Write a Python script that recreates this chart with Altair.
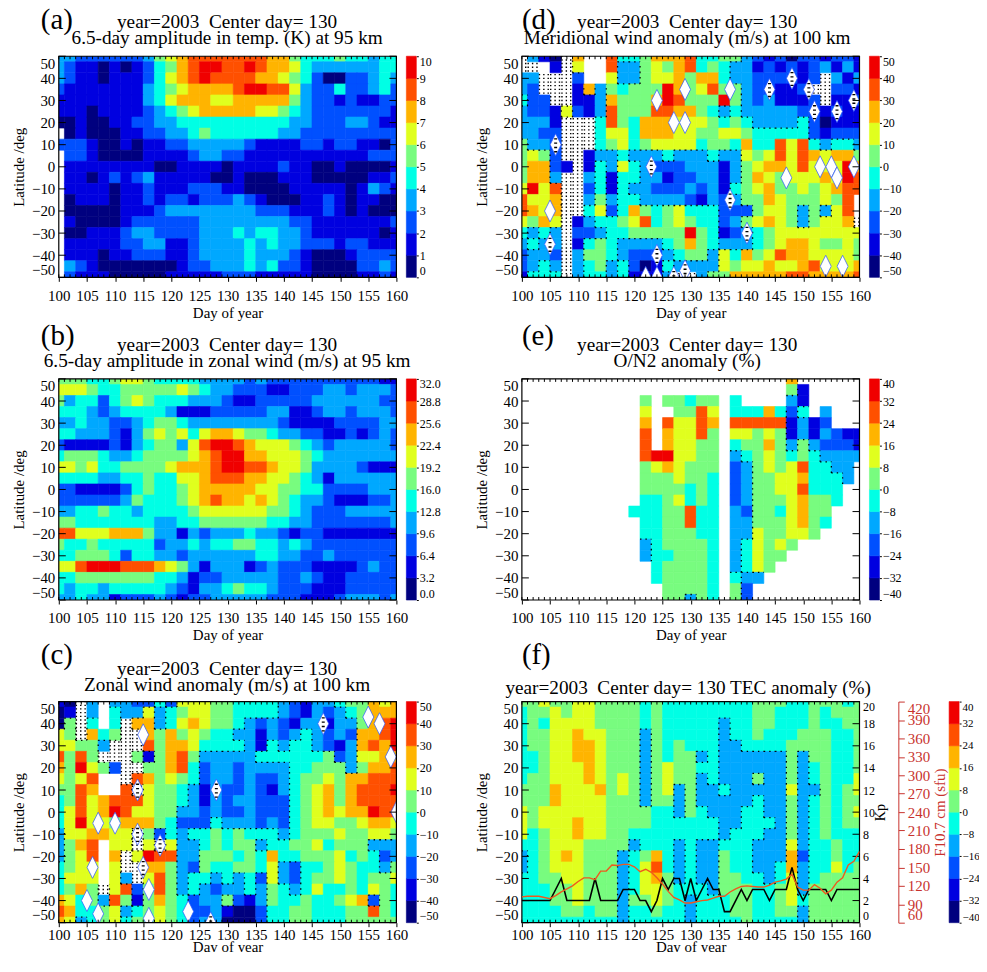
import altair as alt
import pandas as pd

FONT = "Liberation Serif"
PALETTE = ['#00007f', '#0000e0', '#0050ff', '#00a8ff', '#00ffe5',
           '#78fc7f', '#e0ff1e', '#ffb400', '#ff5000', '#f00000']
LATS = list(range(50, -55, -5))
GRID_DAYS = list(range(100, 162, 2))
MINOR_DAYS = list(range(100, 161))
MAJOR_DAYS = list(range(100, 165, 5))
LAT_TICKS = list(range(-50, 60, 10))

# Contour level index per cell: rows lat 50..-50, columns day 100..160 step 2.
# w = no data, x = no data with dense stippling
a_rows = [
"3 3 2 2 2 2 2 2 3 5 6 7 8 8 8 8 8 8 8 7 7 5 4 4 4 5 4 4 3 4 4",
"3 2 1 1 0 1 0 1 2 4 5 7 8 9 9 8 8 9 8 7 7 6 4 3 3 3 3 3 3 4 4",
"3 2 1 1 0 1 1 1 2 4 6 7 8 9 8 8 8 8 7 7 6 5 4 2 0 0 2 2 3 4 3",
"2 1 1 1 1 1 1 1 3 4 5 6 7 7 7 7 8 9 9 8 8 6 3 2 2 4 2 2 3 4 2",
"1 1 1 1 1 1 1 1 3 4 6 7 7 7 6 6 7 7 7 7 7 5 3 2 2 1 2 1 1 2 2",
"1 1 1 0 1 1 1 1 2 3 4 5 6 7 7 7 7 7 6 6 5 4 3 2 2 2 2 2 2 2 1",
"0 0 1 0 0 1 1 2 2 3 3 4 4 4 4 4 4 4 4 4 4 3 3 2 2 2 3 3 2 1 1",
"w 0 1 0 0 0 1 1 2 2 3 3 4 5 4 4 4 4 4 4 3 3 2 2 2 2 2 2 2 2 2",
"2 2 2 1 0 0 1 0 1 1 2 2 3 3 3 3 3 2 1 1 1 1 2 2 1 2 2 1 1 0 2",
"w 2 2 1 0 0 0 0 1 1 1 1 2 3 3 2 2 1 1 1 1 1 1 1 1 1 1 1 2 2 2",
"w 1 1 1 1 1 1 1 1 0 0 1 1 1 1 0 1 1 1 1 2 1 1 0 0 1 0 0 0 0 1",
"w 1 1 0 1 2 1 2 3 1 1 1 1 1 0 0 1 0 0 0 1 1 1 0 0 0 0 0 1 1 2",
"w 1 1 1 1 0 1 1 2 1 1 1 2 2 2 1 1 0 0 0 0 1 1 1 1 1 0 1 3 2 1",
"w 0 1 1 1 0 1 1 2 1 2 2 1 2 2 2 3 2 1 0 0 0 1 1 2 1 0 1 1 0 0",
"w 0 0 0 0 0 1 1 1 2 3 3 3 3 3 3 3 3 2 2 2 1 1 1 2 1 0 1 0 0 0",
"w 1 0 0 0 0 1 2 2 2 2 2 2 3 3 3 3 3 3 3 3 2 2 1 1 1 1 1 1 1 2",
"w 0 0 1 1 1 2 3 3 2 2 2 2 3 3 3 4 3 4 4 3 3 2 1 1 1 1 1 1 0 1",
"w 1 1 1 1 1 2 2 3 3 1 1 2 3 3 3 3 4 3 4 3 3 2 2 2 1 2 2 1 1 1",
"w 1 1 1 0 1 1 2 2 2 1 1 2 3 3 3 3 4 3 3 3 2 1 0 0 0 1 2 2 2 2",
"w 3 2 1 0 0 0 0 0 0 0 1 2 2 3 3 3 4 3 4 2 2 1 0 0 0 0 2 2 3 2",
"w 2 1 1 1 0 0 0 0 0 1 1 1 1 1 2 2 2 1 1 1 1 1 0 0 0 0 1 1 2 1",
]
b_rows = [
"5 5 5 4 4 5 6 6 5 4 4 4 4 3 3 3 3 2 3 2 2 2 2 2 2 2 2 2 2 1 1",
"6 6 6 5 4 4 5 5 5 5 5 6 5 4 3 3 2 2 2 1 1 2 2 2 3 3 2 3 3 3 2",
"5 3 4 4 2 4 5 6 5 4 4 4 3 3 3 2 1 1 2 2 2 2 2 3 3 3 3 3 3 2 2",
"4 4 4 3 2 3 4 4 4 4 3 1 1 1 2 2 2 2 2 3 3 1 1 2 3 3 2 3 3 3 2",
"3 3 4 3 3 2 2 3 4 5 5 4 3 3 3 3 3 3 3 3 2 1 1 1 1 2 2 2 2 3 3",
"4 4 3 3 3 2 1 3 5 6 5 6 4 6 7 7 6 5 5 4 3 3 2 2 1 1 2 1 2 3 2",
"2 1 1 1 1 2 1 3 4 5 5 3 6 8 9 9 8 7 6 6 6 5 4 3 2 3 3 3 3 3 2",
"4 5 5 5 4 3 3 4 5 5 5 5 6 7 8 9 9 7 7 6 6 6 5 4 3 3 3 3 3 3 3",
"6 6 5 6 4 4 5 5 5 5 6 7 7 7 8 9 9 8 8 7 6 6 5 3 3 3 3 2 1 1 1",
"4 4 4 4 3 3 4 4 5 4 4 6 6 7 8 8 8 7 7 6 6 5 4 3 1 3 3 3 3 3 3",
"2 2 1 1 1 1 2 4 5 4 4 5 6 7 7 7 7 7 6 6 5 5 4 4 2 2 2 2 3 3 3",
"2 2 2 2 2 2 3 5 4 4 4 5 6 7 8 7 7 6 7 6 5 4 3 3 2 1 1 1 2 2 3",
"3 3 4 4 5 4 4 3 4 4 4 4 5 6 6 6 6 6 6 5 5 4 3 2 2 2 3 3 3 3 3",
"5 5 4 4 4 4 4 4 4 3 3 4 4 5 5 5 5 5 5 4 4 3 3 2 2 2 2 2 2 2 3",
"8 8 6 6 6 7 7 7 5 3 3 1 3 2 3 3 3 4 3 3 2 1 2 2 1 1 1 1 1 1 1",
"5 4 4 5 4 4 4 4 4 2 3 3 4 3 4 4 5 5 4 4 3 4 3 2 2 2 2 2 2 2 2",
"4 4 5 5 5 4 2 4 4 3 3 2 3 3 3 3 3 3 4 4 3 3 2 2 3 2 2 2 2 2 2",
"6 6 8 9 9 9 8 8 8 7 6 5 3 1 3 3 3 1 2 3 2 2 2 1 1 1 1 2 3 2 2",
"4 4 5 5 5 5 5 5 5 4 4 3 1 2 2 3 3 3 3 3 2 2 3 2 1 1 2 2 2 2 2",
"4 3 4 4 3 4 4 4 4 4 3 2 1 3 3 4 5 4 4 3 2 2 2 1 1 1 2 2 2 2 2",
"3 3 4 3 3 1 2 2 2 3 2 1 2 2 3 3 3 3 3 2 2 2 1 1 1 2 3 3 3 2 3",
]
c_rows = [
"1 0 x 3 w 3 3 2 2 4 2 6 6 6 5 5 4 4 4 4 3 2 1 3 3 4 5 5 7 6 7",
"0 1 x 3 w 4 3 3 6 3 4 5 6 6 5 5 4 4 4 4 3 2 1 3 2 3 4 5 7 7 7",
"0 5 x 4 w 4 x 7 7 3 4 6 7 6 5 5 4 3 2 3 2 1 3 3 1 3 3 5 7 8 9",
"6 5 x 7 4 5 x x 7 5 7 5 6 5 4 4 3 3 1 3 2 3 4 3 2 3 2 7 7 8 9",
"6 6 5 5 3 x x x 8 5 7 7 6 4 4 4 4 3 1 4 3 4 4 3 2 1 3 7 8 7 9",
"8 5 8 5 x x x 5 1 5 7 8 5 3 3 3 3 3 4 4 4 4 4 4 5 2 3 6 6 7 7",
"7 5 9 6 5 2 x x 5 5 7 8 4 2 3 3 2 3 3 3 3 4 4 5 5 5 3 5 7 7 8",
"6 5 6 8 w w x 8 7 5 6 5 4 2 3 3 2 3 2 2 3 4 5 5 6 5 7 7 8 8 8",
"5 5 8 7 w w 8 x 6 5 5 4 3 1 3 2 2 3 2 1 3 4 5 6 7 5 7 8 8 8 9",
"4 5 8 6 7 8 8 8 6 5 5 4 3 1 3 2 3 3 2 2 2 4 5 6 7 5 7 8 8 8 8",
"4 6 8 6 7 9 8 6 6 5 5 3 3 2 3 2 2 3 2 2 2 4 5 6 7 6 7 7 9 8 8",
"4 6 9 6 6 5 7 7 7 5 4 2 2 2 4 3 3 3 2 3 2 4 5 6 6 5 5 6 7 7 6",
"3 6 6 7 7 6 6 x 5 2 4 3 4 4 5 4 5 4 4 4 3 4 5 5 5 6 5 5 6 6 5",
"3 5 7 8 w 6 6 x 6 x 6 3 3 4 5 4 5 5 3 4 4 5 5 6 4 5 5 5 3 3 3",
"3 5 6 8 w 7 x 6 9 8 8 3 3 5 5 5 4 5 4 7 4 4 5 5 5 6 4 5 4 2 3",
"4 5 6 6 w 6 x x 7 7 5 3 2 5 4 4 5 5 4 6 3 2 4 4 5 6 5 4 4 3 5",
"4 6 6 6 w 6 3 x 6 8 5 3 4 4 3 4 3 4 2 6 3 2 4 5 5 6 5 4 5 5 6",
"4 5 7 5 x 6 8 2 5 8 5 3 4 3 2 3 3 4 3 5 4 3 4 6 4 4 5 4 6 5 4",
"7 6 4 5 3 8 5 1 5 7 5 4 2 3 3 5 2 1 3 5 4 4 5 4 4 5 6 7 2 5 4",
"8 7 4 4 5 6 3 4 5 6 5 4 2 2 3 1 0 0 2 4 4 5 5 4 4 4 5 5 8 5 4",
"7 6 3 4 5 6 4 5 5 6 5 4 2 3 3 0 0 0 2 4 4 5 5 4 4 4 5 5 5 5 5",
]
d_rows = [
"x 3 1 0 x 7 w w 8 4 4 5 7 7 7 8 4 4 5 5 3 2 1 2 0 2 2 1 2 2 1",
"x x w 1 x 6 w w 8 3 3 5 6 5 7 8 4 5 4 3 3 1 2 1 2 1 2 3 1 3 1",
"3 3 x x x 2 w w 6 3 3 5 6 6 7 5 7 7 4 3 3 2 2 2 2 1 2 x 3 1 3",
"3 2 x x x 1 7 3 5 4 5 5 5 9 7 5 6 8 5 5 3 2 2 1 1 2 x x 2 2 1",
"4 2 2 x x 1 1 3 7 5 5 5 7 9 8 5 5 5 9 5 3 2 3 1 1 1 2 x 1 1 2",
"3 2 2 1 6 2 1 3 8 5 5 5 8 8 7 7 5 4 3 4 3 3 3 3 3 2 2 1 2 1 1",
"3 3 3 1 x x x 4 8 5 4 7 7 7 6 6 6 5 4 5 4 3 3 3 3 4 2 0 1 1 1",
"3 3 2 2 x x x 4 6 6 4 7 7 7 6 6 5 5 6 6 5 4 4 4 4 4 2 1 2 2 2",
"5 3 3 2 x x x 4 5 6 4 5 6 6 6 6 4 5 5 4 7 4 4 8 6 8 4 3 4 4 3",
"5 6 5 2 x x 1 3 3 4 3 3 3 4 3 3 3 4 3 3 6 5 6 8 6 8 7 6 7 7 5",
"5 7 7 2 1 x 1 4 3 6 4 3 2 2 2 3 3 3 1 3 5 6 7 7 6 8 6 6 6 9 7",
"5 7 7 3 x x 3 4 1 4 4 3 3 1 2 2 3 3 1 3 5 7 6 5 6 6 6 7 6 9 8",
"6 9 6 8 x x 2 4 1 4 3 3 2 2 2 3 2 3 1 4 5 6 7 5 5 6 5 6 7 8 8",
"8 6 6 7 x x 3 5 3 4 4 3 3 3 3 2 1 3 2 3 5 5 7 6 5 5 5 6 5 8 w",
"8 7 6 7 x x 4 6 2 4 7 5 4 5 6 4 4 4 2 2 2 5 6 6 5 3 5 3 6 8 w",
"6 5 7 6 x 1 3 4 4 5 6 8 4 5 6 5 4 4 2 3 5 6 7 6 5 3 5 6 6 7 x",
"4 3 4 3 x 2 2 3 4 4 5 5 5 5 5 9 5 4 1 2 3 4 5 6 6 6 6 6 6 6 6",
"3 4 3 3 x 1 4 5 4 3 3 3 3 4 5 7 5 4 3 3 3 4 5 6 7 7 6 5 5 6 5",
"2 3 3 2 x 3 5 5 4 3 2 2 2 3 4 5 5 3 6 4 7 5 6 8 7 7 6 6 6 6 5",
"2 3 4 3 x 3 4 5 3 4 2 0 1 4 3 3 3 3 6 5 6 6 7 6 6 7 8 6 6 6 7",
"1 4 4 4 x 3 4 4 3 4 1 1 1 3 x x 3 5 5 7 7 7 7 7 8 8 7 7 7 7 8",
]
e_rows = [
"w w w w w w w w w w w w w w w w w w w w w w w w 7 w w w w w w",
"w w w w w w w w w w w w w w w w w w w w w w w w 5 1 w w w w w",
"w w w w w w w w w w w 5 w 5 5 4 5 5 w 4 w w w w 3 1 w w w w w",
"w w w w w w w w w w w 6 w w 5 5 8 6 w 4 4 4 7 4 2 4 w 3 w w w",
"w w w w w w w w w w w 7 w 8 6 6 8 7 w 8 8 8 8 8 1 3 1 2 w w w",
"w w w w w w w w w w w 8 w 7 6 6 8 5 w 6 6 5 6 5 1 3 1 3 2 1 1",
"w w w w w w w w w w w 8 w 7 6 6 5 5 w 4 5 5 7 5 3 5 3 2 2 2 1",
"w w w w w w w w w w w 8 9 9 6 6 5 5 w 3 4 5 6 5 4 5 4 3 3 3 3",
"w w w w w w w w w w w 5 6 7 6 5 5 5 w 2 3 5 6 5 6 8 4 4 3 3 w",
"w w w w w w w w w w w 5 5 5 6 5 5 4 w 2 3 5 5 6 6 7 4 4 4 3 w",
"w w w w w w w w w w w 5 5 5 5 4 5 4 w 2 3 5 5 6 6 8 4 4 4 w w",
"w w w w w w w w w w w 4 4 5 6 4 5 4 w 2 3 5 5 5 6 7 5 5 4 w w",
"w w w w w w w w w w 4 4 4 5 5 8 4 4 w 3 2 5 5 4 6 7 5 5 w w w",
"w w w w w w w w w w w 4 4 5 5 8 4 4 w 3 3 5 5 5 6 7 5 4 w w w",
"w w w w w w w w w w w 4 4 5 5 5 4 4 w 3 3 6 5 5 6 6 5 w w w w",
"w w w w w w w w w w w 3 4 5 5 5 5 4 w 3 4 6 5 6 5 w w w w w w",
"w w w w w w w w w w w 3 4 4 5 5 5 4 w 3 4 6 5 5 w w w w w w w",
"w w w w w w w w w w w w 4 5 5 5 5 4 w 3 4 6 5 w w w w w w w w",
"w w w w w w w w w w w w 4 5 5 5 5 4 w 4 3 3 w w w w w w w w w",
"w w w w w w w w w w w w w 5 5 5 5 4 w 5 2 w w w w w w w w w w",
"w w w w w w w w w w w w w 5 5 3 5 4 w 5 2 w w w w w w w w w w",
]
f_rows = [
"5 5 6 5 5 6 6 5 5 5 5 4 5 4 4 4 4 4 4 4 4 5 5 5 4 4 5 5 5 4 5",
"4 5 5 6 5 6 6 5 5 5 5 4 5 4 4 4 4 4 4 4 4 5 5 4 4 4 5 4 5 5 5",
"4 5 4 6 6 6 6 5 5 5 5 4 5 4 4 4 4 4 3 4 4 5 5 4 4 4 5 4 4 5 5",
"4 5 5 6 6 7 6 6 5 5 5 3 5 4 4 4 4 4 3 4 4 5 4 4 4 5 5 5 4 4 5",
"4 5 5 6 6 7 7 6 5 5 5 3 5 4 5 4 4 4 3 3 4 4 4 4 5 5 5 5 4 4 5",
"4 4 5 6 6 7 7 6 5 5 5 3 5 4 5 5 3 4 3 3 3 3 3 3 5 3 5 5 4 4 5",
"4 4 5 6 6 6 7 6 5 5 5 3 5 6 5 5 4 4 3 3 3 3 3 3 5 3 4 5 4 4 5",
"4 5 5 6 6 6 7 6 5 6 5 3 5 6 5 5 3 4 3 3 3 5 3 3 5 3 4 5 4 4 6",
"5 5 5 7 6 6 6 7 5 6 5 3 5 6 3 5 3 3 4 3 3 3 3 3 6 3 3 5 4 5 6",
"5 5 5 7 6 6 6 6 5 5 5 3 5 5 3 5 3 3 3 3 3 4 3 3 5 3 4 5 4 5 5",
"6 5 6 6 6 6 6 6 5 5 5 5 4 4 3 5 4 3 3 3 4 4 3 3 5 3 4 5 4 5 6",
"6 5 6 6 6 7 6 6 5 5 5 5 4 4 4 4 4 4 3 3 4 4 4 3 5 3 4 5 4 5 5",
"6 4 5 6 6 7 6 6 5 5 4 4 4 4 4 4 4 4 3 4 4 4 3 3 5 3 4 5 4 4 4",
"4 4 5 6 6 6 5 5 5 5 3 4 4 4 3 4 3 3 4 4 4 3 3 3 6 3 4 4 5 4 4",
"3 4 5 6 7 6 5 5 5 3 4 5 7 4 3 4 3 3 5 4 4 3 3 3 7 2 4 4 5 4 4",
"3 4 5 6 6 6 5 5 5 3 4 6 8 4 3 4 3 3 5 4 4 3 3 4 7 3 4 4 6 4 5",
"4 4 5 5 6 6 5 5 5 3 4 6 7 5 3 4 3 3 5 5 4 4 3 4 6 3 4 5 5 5 5",
"4 4 4 5 5 6 5 5 5 3 4 6 6 5 4 4 4 3 5 5 5 4 4 5 6 3 5 5 5 5 5",
"4 4 4 5 5 6 5 5 5 3 5 5 6 5 4 3 4 4 4 5 5 4 4 5 6 4 5 5 5 5 5",
"4 4 4 4 5 5 4 5 5 3 4 4 5 4 4 3 4 4 4 5 5 4 4 5 5 3 5 5 5 5 5",
"4 4 4 4 4 4 4 4 4 3 4 4 4 4 4 3 4 4 4 4 5 4 4 4 4 3 5 5 5 5 5",
]

# White no-data diamonds (day, latitude)
c_diamonds = [(155, 43), (157, 40), (159, 25), (115, 35), (107, -5), (110, -5), (106, -25),
              (105, -40), (107, -46), (116, -35), (116, -48), (123, -45), (160, 0)]
c_dotted = [(128, 10), (114, 10), (114, -10), (118, -15), (115, -25), (147, 40), (127, -50)]
d_diamonds = [(153, 0), (147, -5), (105, -20), (124, 30), (127, 20), (129, 35), (129, 20),
              (137, 35), (154, -45), (157, -45), (159, 0), (155, 0), (156, -5), (122, -50), (124, -50)]
d_dotted = [(137, -15), (140, -30), (144, 35), (148, 40), (151, 35), (152, 25), (156, 25), (159, 30),
            (105, -35), (106, 10), (123, 0), (124, -40), (129, -47), (127, -50)]

# Daily geomagnetic and solar series in panel (f)
kp_days = list(range(100, 161))
kp_values = [2, 2, 2, 2, 2, 2, 3, 4, 2, 2, 2, 2, 2, 4, 2, 2, 2, 2, 3, 3, 3, 2, 2, 1, 2, 4, 3, 4, 4, 2, 4,
             2, 3, 4, 3, 3, 1, 1, 2, 3, 2, 3, 3, 3, 2, 3, 3, 3, 5, 3, 2, 3, 3, 3, 3, 2, 3, 3, 3, 3, 3]
f107_values = [102, 103, 103, 103, 101, 99, 104, 110, 115, 120, 127, 133, 133, 130, 144, 144, 154, 153, 155, 155, 151,
               143, 147, 142, 133, 123, 111, 101, 97, 92, 92, 94, 96, 97, 100, 103, 103, 110, 115, 119, 120,
               119, 118, 118, 121, 126, 128, 131, 139, 118, 113, 113, 122, 116, 107, 113, 126, 133, 154, 160, 176]

W, H = 339, 222
BAR_CELL = 106


def grid_frames(rows):
    parsed = [r.split() for r in rows]
    bad = [i for i, r in enumerate(parsed) if len(r) != len(GRID_DAYS)]
    assert not bad and len(parsed) == len(LATS), f"bad rows {bad} {len(parsed)}"
    cells, segs, stip = [], [], []
    for i, row in enumerate(parsed):
        lat = LATS[i]
        for j, ch in enumerate(row):
            day = GRID_DAYS[j]
            if ch in "wx":
                if ch == "x":
                    for off in (-1.7, 0, 1.7):
                        stip.append(dict(d0=day - 1, d1=day + 1, y=lat + off))
                continue
            cells.append(dict(d0=day - 1, d1=day + 1, y0=lat - 2.5, y1=lat + 2.5, level=int(ch)))
    low = lambda c: c == "x" or (c != "w" and int(c) <= 3)
    for i, row in enumerate(parsed):
        for j, ch in enumerate(row):
            if ch == "w":
                continue
            if j + 1 < len(row) and row[j + 1] != "w" and low(ch) != low(row[j + 1]):
                segs.append(dict(d0=GRID_DAYS[j] + 1, d1=GRID_DAYS[j] + 1,
                                 y0=LATS[i] - 2.5, y1=LATS[i] + 2.5))
            if i + 1 < len(parsed) and parsed[i + 1][j] != "w" and low(ch) != low(parsed[i + 1][j]):
                segs.append(dict(d0=GRID_DAYS[j] - 1, d1=GRID_DAYS[j] + 1,
                                 y0=LATS[i] - 2.5, y1=LATS[i] - 2.5))
    return pd.DataFrame(cells), pd.DataFrame(segs), pd.DataFrame(stip)


XS = alt.Scale(domain=[100, 160], nice=False, zero=False)
YS = alt.Scale(domain=[-50, 50], nice=False, zero=False)
CS = alt.Scale(domain=list(range(10)), range=PALETTE)
one = pd.DataFrame({"a": [0]})


def text_mark(txt, x, y, size, align="center"):
    return alt.Chart(one).mark_text(font=FONT, fontSize=size, align=align, baseline="middle", color="black").encode(
        x=alt.value(x), y=alt.value(y), text=alt.value(txt))


def panel(rows, letter, letter_x, letter_y, lines, contours=True, diamonds=None, dotted=None, extra=None,
          label_pad=7, title_pad=2):
    cells, segs, stip = grid_frames(rows)
    x_ax = alt.Axis(orient="bottom", values=MAJOR_DAYS, title="Day of year", tickSize=4, tickColor="black",
                    domain=False, grid=False, labelFont=FONT, labelFontSize=15, labelColor="black", titleFont=FONT,
                    titleFontSize=15, titleFontWeight="normal", titleColor="black", labelPadding=label_pad,
                    titlePadding=title_pad, labelFlush=False, labelOverlap=False, format="d")
    y_ax = alt.Axis(orient="left", values=LAT_TICKS, title="Latitude /deg", ticks=False, domain=False, grid=False,
                    labelFont=FONT, labelFontSize=15, labelColor="black", titleFont=FONT, titleFontSize=15,
                    titleFontWeight="normal", titleColor="black", labelPadding=4, titlePadding=5, labelFlush=True,
                    labelFlushOffset=0, labelOverlap=False, format="d")
    layers = [alt.Chart(cells).mark_rect(clip=True, strokeWidth=0.6).encode(
        x=alt.X("d0:Q", scale=XS, axis=x_ax), x2="d1:Q",
        y=alt.Y("y0:Q", scale=YS, axis=y_ax), y2="y1:Q",
        fill=alt.Fill("level:O", scale=CS, legend=None),
        stroke=alt.Stroke("level:O", scale=CS, legend=None))]
    if contours and len(segs):
        layers.append(alt.Chart(segs).mark_rule(clip=True, color="black", strokeWidth=1.3, strokeDash=[1.4, 4]).encode(
            x=alt.X("d0:Q", scale=XS, axis=None), x2="d1:Q",
            y=alt.Y("y0:Q", scale=YS, axis=None), y2="y1:Q"))
    if len(stip):
        layers.append(alt.Chart(stip).mark_rule(clip=True, color="black", strokeWidth=1.4, strokeDash=[1.4, 3]).encode(
            x=alt.X("d0:Q", scale=XS, axis=None), x2="d1:Q", y=alt.Y("y:Q", scale=YS, axis=None)))
    all_d = (diamonds or []) + (dotted or [])
    if all_d:
        dd = pd.DataFrame(all_d, columns=["day", "lat"])
        layers.append(alt.Chart(dd).mark_point(clip=True, shape="M0,-1L0.5,0L0,1L-0.5,0Z", filled=True, fill="white",
                                               stroke="#2a55ff", strokeWidth=0.7, opacity=1, size=484).encode(
            x=alt.X("day:Q", scale=XS, axis=None), y=alt.Y("lat:Q", scale=YS, axis=None)))
    if dotted:
        dt = pd.DataFrame(dotted, columns=["day", "lat"])
        dt["lo"], dt["hi"] = dt.lat - 3.5, dt.lat + 3.5
        layers.append(alt.Chart(dt).mark_rule(clip=True, color="black", strokeWidth=3, strokeDash=[1.3, 3]).encode(
            x=alt.X("day:Q", scale=XS, axis=None), y=alt.Y("lo:Q", scale=YS, axis=None), y2="hi:Q"))
    # minor and major ticks on the frame
    mdf = pd.DataFrame({"day": MINOR_DAYS})
    for y0, y1 in ((0, 3), (H - 3, H)):
        layers.append(alt.Chart(mdf).mark_rule(color="black", strokeWidth=1).encode(
            x=alt.X("day:Q", scale=XS, axis=None), y=alt.value(y0), y2=alt.value(y1)))
    ldf = pd.DataFrame({"lat": LAT_TICKS})
    for x0, x1 in ((0, 7), (W - 7, W)):
        layers.append(alt.Chart(ldf).mark_rule(color="black", strokeWidth=1).encode(
            y=alt.Y("lat:Q", scale=YS, axis=None), x=alt.value(x0), x2=alt.value(x1)))
    layers.append(alt.Chart(one).mark_rect(fill=None, stroke="black", strokeWidth=1.2).encode(
        x=alt.value(0), x2=alt.value(W), y=alt.value(0), y2=alt.value(H)))
    layers.append(text_mark(letter, letter_x, letter_y, 29, "left"))
    for txt, tx, ty in lines:
        layers.append(text_mark(txt, tx, ty, 19.3))
    if extra:
        layers.extend(extra)
    return alt.layer(*layers).resolve_scale(x="independent", y="independent").properties(width=W, height=H)


def colorbar(levels, fmt="d", x0=0, label_size=12):
    df = pd.DataFrame({"lo": levels[:-1], "hi": levels[1:], "level": list(range(10))})
    return alt.Chart(df).mark_rect(strokeWidth=0.6).encode(
        x=alt.value(x0), x2=alt.value(x0 + 10),
        y=alt.Y("lo:Q", scale=alt.Scale(domain=[levels[0], levels[-1]], nice=False, zero=False),
                axis=alt.Axis(orient="right", offset=-(BAR_CELL - x0 - 10), values=levels, format=fmt, title=None,
                              domain=False, grid=False, tickSize=2, tickColor="black", labelFlush=True,
                              labelFlushOffset=0, labelOverlap=False, labelFont=FONT, labelFontSize=label_size,
                              labelColor="black", labelPadding=1)),
        y2="hi:Q",
        fill=alt.Fill("level:O", scale=CS, legend=None),
        stroke=alt.Stroke("level:O", scale=CS, legend=None),
    ).properties(width=BAR_CELL, height=H)


yr = "year=2003\u00a0 Center day= 130"

kp_df = pd.DataFrame({"day": kp_days, "kp": kp_values})
f_df = pd.DataFrame({"day": kp_days, "f107": f107_values})
RED = "#c8322d"
kp_layer = alt.Chart(kp_df).mark_line(color="black", strokeWidth=1.6, clip=True).encode(
    x=alt.X("day:Q", scale=XS, axis=None),
    y=alt.Y("kp:Q", scale=alt.Scale(domain=[0, 20], nice=False, zero=False),
            axis=alt.Axis(orient="right", values=list(range(0, 22, 2)), title="Kp", titleAngle=270, ticks=False,
                          domain=False, grid=False, labelFlush=True, labelFlushOffset=0, labelOverlap=False,
                          labelFont=FONT, labelFontSize=12, labelColor="black", labelPadding=3, titleFont=FONT,
                          titleFontSize=14, titleFontWeight="normal", titleColor="black", titlePadding=13)))
f_layer = alt.Chart(f_df).mark_line(color="#ee5a1e", strokeWidth=1.4, clip=True).encode(
    x=alt.X("day:Q", scale=XS, axis=None),
    y=alt.Y("f107:Q", scale=alt.Scale(domain=[60, 420], nice=False, zero=False),
            axis=alt.Axis(orient="right", offset=39, values=list(range(60, 450, 30)), title="F10.7 cm (sfu)",
                          titleAngle=270, tickSize=6, tickColor=RED, domain=True, domainColor=RED, grid=False,
                          labelFlush=True, labelFlushOffset=0, labelOverlap=False, labelFont=FONT, labelFontSize=15,
                          labelColor=RED, labelPadding=3, titleFont=FONT, titleFontSize=15,
                          titleFontWeight="normal", titleColor=RED, titlePadding=18)))

a = panel(a_rows, "(a)", -18, -36, [(yr, 169, -34), ("6.5-day amplitude in temp. (K) at 95 km", 169, -18)], contours=False)
b = panel(b_rows, "(b)", -18, -43, [(yr, 169, -34), ("6.5-day amplitude in zonal wind (m/s) at 95 km", 169, -18)], contours=False)
c = panel(c_rows, "(c)", -18, -47, [(yr, 169, -33), ("Zonal wind anomaly (m/s) at 100 km", 169, -17)],
          diamonds=c_diamonds, dotted=c_dotted, label_pad=1, title_pad=-3)
d = panel(d_rows, "(d)", 0, -36, [(yr, 166, -34), ("Meridional wind anomaly (m/s) at 100 km", 166, -18)],
          diamonds=d_diamonds, dotted=d_dotted)
e = panel(e_rows, "(e)", 0, -43, [(yr, 166, -34), ("O/N2 anomaly (%)", 166, -18)])
f = panel(f_rows, "(f)", 0, -47, [(yr + " TEC anomaly (%)", 167, -14)], extra=[kp_layer, f_layer],
          label_pad=1, title_pad=-3)

lev_a = list(range(0, 11))
lev_b = [0.0, 3.2, 6.4, 9.6, 12.8, 16.0, 19.2, 22.4, 25.6, 28.8, 32.0]
lev_w = list(range(-50, 60, 10))
lev_p = list(range(-40, 48, 8))

chart = alt.concat(
    a, colorbar(lev_a), d, colorbar(lev_w),
    b, colorbar(lev_b, ".1f"), e, colorbar(lev_p),
    c, colorbar(lev_w), f, colorbar(lev_p, x0=80, label_size=11),
    columns=4, spacing=alt.RowColnumber(row=102, column=10), bounds="flush",
    padding={"left": 3, "top": -3.5, "right": -1, "bottom": -4.5},
).configure_view(stroke=None)

chart.save("out.html", embed_options={"renderer": "svg", "actions": False})
